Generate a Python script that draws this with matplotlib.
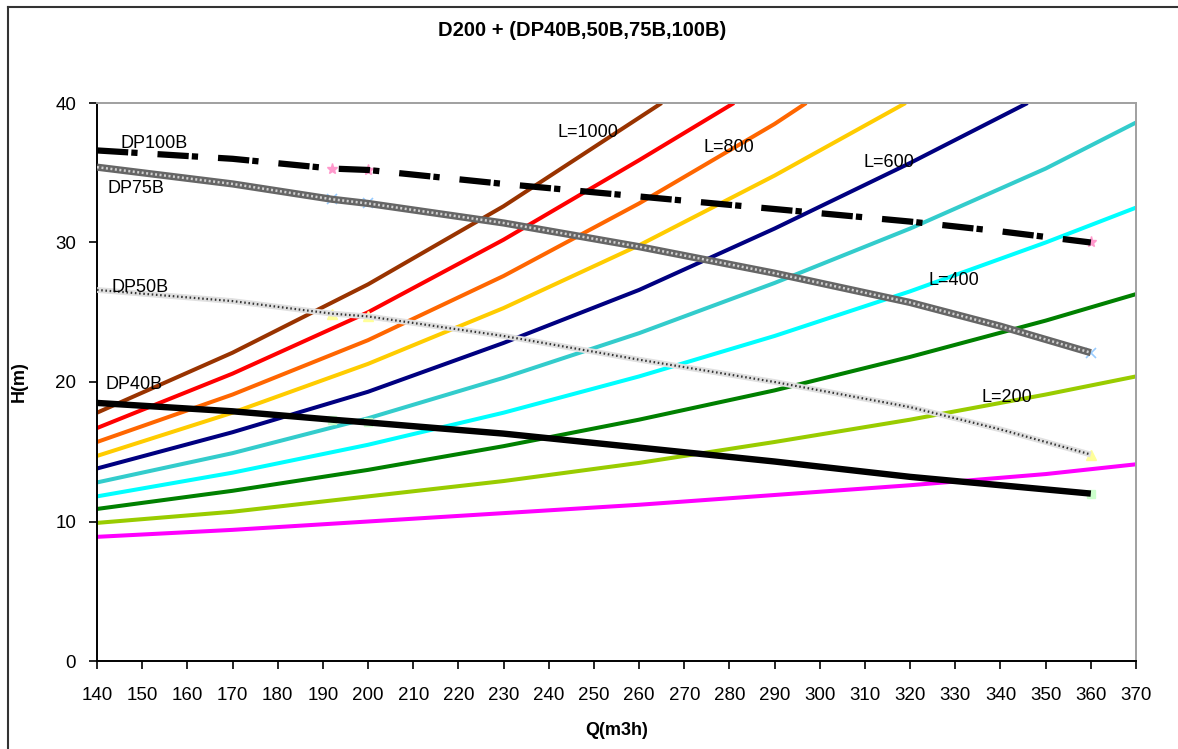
import matplotlib
matplotlib.use("Agg")
import matplotlib.pyplot as plt
from matplotlib.lines import Line2D

plt.rcParams['font.family'] = ['Liberation Sans', 'DejaVu Sans']

# System curves H(Q) for pipe lengths L = 100 ... 1000 m
q_sys = {
    "L100":  [140, 170, 200, 230, 260, 290, 320, 350, 370],
    "L200":  [140, 170, 200, 230, 260, 290, 320, 350, 370],
    "L300":  [140, 170, 200, 230, 260, 290, 320, 350, 370],
    "L400":  [140, 170, 200, 230, 260, 290, 320, 350, 370],
    "L500":  [140, 170, 200, 230, 260, 290, 320, 350, 370],
    "L600":  [140, 170, 200, 230, 260, 290, 320, 346],
    "L700":  [140, 170, 200, 230, 260, 290, 319],
    "L800":  [140, 170, 200, 230, 260, 290, 297],
    "L900":  [140, 170, 200, 230, 260, 281],
    "L1000": [140, 170, 200, 230, 265],
}
h_sys = {
    "L100":  [8.9, 9.4, 10.0, 10.6, 11.2, 11.9, 12.6, 13.4, 14.1],
    "L200":  [9.9, 10.7, 11.8, 12.9, 14.2, 15.7, 17.3, 19.1, 20.4],
    "L300":  [10.9, 12.2, 13.7, 15.4, 17.3, 19.4, 21.8, 24.4, 26.3],
    "L400":  [11.8, 13.5, 15.5, 17.8, 20.4, 23.3, 26.5, 30.0, 32.5],
    "L500":  [12.8, 14.9, 17.4, 20.3, 23.5, 27.1, 31.0, 35.3, 38.6],
    "L600":  [13.8, 16.4, 19.3, 22.8, 26.6, 31.0, 35.7, 40.0],
    "L700":  [14.7, 17.8, 21.3, 25.3, 29.8, 34.8, 40.0],
    "L800":  [15.7, 19.1, 23.0, 27.6, 32.8, 38.5, 40.0],
    "L900":  [16.7, 20.6, 25.0, 30.2, 35.9, 40.0],
    "L1000": [17.8, 22.1, 27.0, 32.6, 40.0],
}
sys_colors = {
    "L100": "#ff00ff", "L200": "#99cc00", "L300": "#008000", "L400": "#00ffff",
    "L500": "#33cccc", "L600": "#000080", "L700": "#ffcc00", "L800": "#ff6600",
    "L900": "#ff0000", "L1000": "#993300",
}

# Pump curves
q_pump = [140, 170, 192, 200, 230, 260, 290, 320, 340, 360]
h_dp40b = [18.5, 17.9, 17.3, 17.1, 16.3, 15.3, 14.3, 13.2, 12.6, 12.0]
h_dp50b = [26.6, 25.8, 24.9, 24.7, 23.3, 21.6, 20.0, 18.2, 16.6, 14.8]
h_dp75b = [35.4, 34.2, 33.1, 32.8, 31.4, 29.7, 27.8, 25.7, 24.0, 22.1]
h_dp100b = [36.6, 36.0, 35.3, 35.2, 34.2, 33.3, 32.4, 31.5, 30.8, 30.0]

sys_labels = [("L=1000", 242, 37.9), ("L=800", 274.2, 36.8), ("L=600", 309.6, 35.7),
              ("L=400", 324.0, 27.3), ("L=200", 335.9, 18.9)]
pump_labels = [("DP100B", 145.1, 37.1), ("DP75B", 142.4, 33.9),
               ("DP50B", 143.3, 26.8), ("DP40B", 141.8, 19.8)]

x_ticks = list(range(140, 371, 10))
y_ticks = [0, 10, 20, 30, 40]

fig = plt.figure(figsize=(11.78, 7.49), dpi=100)
ax = fig.add_axes([97 / 1178, 1 - 661 / 749, (1136 - 97) / 1178, (661 - 103) / 749])

for key in q_sys:
    ax.plot(q_sys[key], h_sys[key], color=sys_colors[key], lw=2.9,
            solid_capstyle='butt', zorder=2)

# markers sit under the pump lines
marks = [2, 3, 9]
ax.plot(q_pump, h_dp40b, ls='none', marker='s', ms=6, color='#ccffcc',
        markevery=marks, zorder=3)
ax.plot(q_pump, h_dp50b, ls='none', marker='^', ms=7, color='#ffff99',
        markevery=marks, zorder=3)
ax.plot(q_pump, h_dp75b, ls='none', marker='x', ms=7, mew=1.2, color='#99ccff',
        markevery=marks, zorder=3)
ax.plot(q_pump, h_dp100b, ls='none', marker='*', ms=8, color='#ff99cc',
        markevery=marks, zorder=3)

# DP40B: solid black
ax.plot(q_pump, h_dp40b, color='black', lw=4.6, solid_capstyle='butt', zorder=5)
# DP50B: light dotted band
ax.plot(q_pump, h_dp50b, color='#e0e0e0', lw=4.2, solid_capstyle='butt', zorder=5)
ax.plot(q_pump, h_dp50b, color='#333333', lw=1.6, ls=(0, (0.7, 1.2)), zorder=6)
# DP75B: checkered grey band
ax.plot(q_pump, h_dp75b, color='#666666', lw=5.2, solid_capstyle='butt', zorder=5)
ax.plot(q_pump, h_dp75b, color='#d0d0d0', lw=1.8, ls=(0, (0.8, 1.0)), zorder=6)
# DP100B: black long-short dashes
ax.plot(q_pump, h_dp100b, color='black', lw=4.5, ls=(0, (5.0, 0.5, 1.0, 3.2)),
        dash_capstyle='butt', zorder=5)

for txt, qx, hy in sys_labels + pump_labels:
    ax.text(qx, hy, txt, fontsize=13, ha='left', va='center', zorder=8)

ax.set_xlim(140, 370)
ax.set_ylim(0, 40)
ax.set_xticks(x_ticks)
ax.set_yticks(y_ticks)
ax.tick_params(axis='both', direction='out', length=6, width=1.2, labelsize=13.5,
               colors='black', pad=9)
ax.tick_params(axis='x', pad=13)
for s in ['left', 'bottom']:
    ax.spines[s].set_color('black')
    ax.spines[s].set_linewidth(1.4)
for s in ['top', 'right']:
    ax.spines[s].set_color('#a0a0a0')
    ax.spines[s].set_linewidth(1.4)

ax.set_xlabel('Q(m3h)', fontsize=13, fontweight='bold', labelpad=13)
ax.set_ylabel('H(m)', fontsize=13, fontweight='bold', labelpad=20)
fig.text(582 / 1178, 1 - 30 / 749, 'D200 + (DP40B,50B,75B,100B)', fontsize=14.5,
         fontweight='bold', ha='center', va='center')

# outer frame
fig.add_artist(Line2D([8 / 1178, 1.0], [1 - 7 / 749, 1 - 7 / 749],
                      transform=fig.transFigure, color='#333333', lw=1.5))
fig.add_artist(Line2D([8 / 1178, 8 / 1178], [0.0, 1 - 7 / 749],
                      transform=fig.transFigure, color='#333333', lw=1.5))

fig.savefig('out.png', dpi=100)
